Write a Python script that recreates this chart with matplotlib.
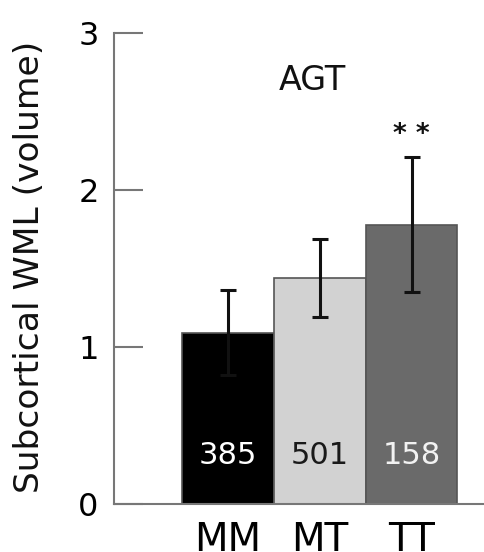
import matplotlib
matplotlib.use("Agg")
import matplotlib.pyplot as plt

# Subcortical white matter lesion volume by AGT genotype
genotypes = ["MM", "MT", "TT"]
means = [1.09, 1.44, 1.78]
errors = [0.27, 0.25, 0.43]
counts = ["385", "501", "158"]
bar_colors = ["#000000", "#d2d2d2", "#6a6a6a"]
count_colors = ["#ffffff", "#1a1a1a", "#f2f2f2"]
yticks = [0, 1, 2, 3]

plt.rcParams["font.family"] = ["DejaVu Sans"]

fig = plt.figure(figsize=(4.85, 5.52), dpi=100)
ax = fig.add_axes([114 / 485, 48 / 552, 1 - 114 / 485, (504 - 33) / 552])

x = list(range(len(genotypes)))
ax.bar(x, means, width=1.0, color=bar_colors, edgecolor="#555555", linewidth=1.2, zorder=2)
ax.errorbar(x, means, yerr=errors, fmt="none", ecolor="#111111", elinewidth=2.2,
            capsize=6, capthick=2.2, zorder=3)

for xi, c, col in zip(x, counts, count_colors):
    ax.text(xi, 0.31, c, ha="center", va="center", color=col, fontsize=22, zorder=4)

ax.text(2, means[2] + errors[2] + 0.14, "* *", ha="center", va="center", fontsize=19,
        fontweight="bold", color="#111111")
ax.text(0.92, 2.70, "AGT", ha="center", va="center", fontsize=24, color="#111111")

ax.set_ylim(0, 3)
ax.set_xlim(-1.24, 2.80)
ax.set_yticks(yticks)
ax.set_yticklabels([str(t) for t in yticks], fontsize=23)
ax.set_xticks(x)
ax.set_xticklabels(genotypes, fontsize=28)
ax.tick_params(axis="y", direction="in", length=21, width=1.5, color="#777777", pad=11)
ax.tick_params(axis="x", length=0, pad=12)

ylab = ax.set_ylabel("Subcortical WML (volume)", fontsize=24, color="#111111")

# shrink the axis title so it runs from about y=40 to y=493 px
fig.canvas.draw()
ext = ylab.get_window_extent()
target = 453.0
ylab.set_fontsize(24 * target / ext.height)
ax.yaxis.set_label_coords((46 - 114) / 371, ((552 - 266.5) - 48) / (504 - 33))

for side in ["top", "right"]:
    ax.spines[side].set_visible(False)
for side in ["left", "bottom"]:
    ax.spines[side].set_color("#777777")
    ax.spines[side].set_linewidth(1.5)

fig.savefig("out.png", dpi=100)
